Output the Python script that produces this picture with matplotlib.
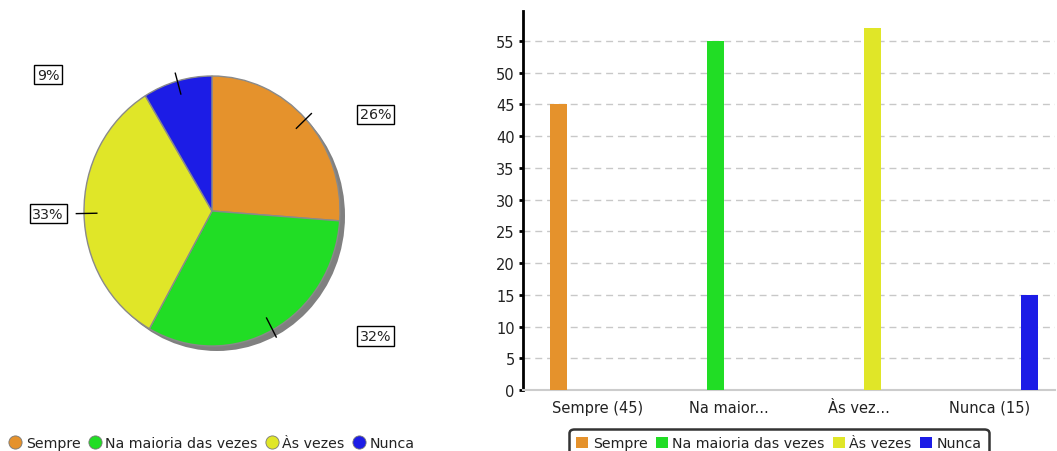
import numpy as np
import matplotlib
matplotlib.use("Agg")
import matplotlib.pyplot as plt
from matplotlib.lines import Line2D
from matplotlib.patches import Ellipse

categories = ["Sempre", "Na maioria das vezes", "Às vezes", "Nunca"]
values = [45, 55, 57, 15]
tick_labels = ["Sempre (45)", "Na maior...", "Às vez...", "Nunca (15)"]
colors = ["#E5922C", "#21DD25", "#E0E628", "#1C1CE6"]

plt.rcParams['font.family'] = ['DejaVu Sans']

W, H = 1057, 452
fig = plt.figure(figsize=(W / 100, H / 100), dpi=100)

# ---------------- Pie ----------------
cx, cy = 212, 452 - 212
rx, ry = 128, 135
k = 1.45
axp = fig.add_axes([(cx - rx * k) / W, (cy - ry * k) / H, 2 * rx * k / W, 2 * ry * k / H])
axp.axis('off')

# shadow
axp.add_patch(Ellipse((5 / rx, -5 / ry), 2, 2, facecolor="#808080", edgecolor="none", zorder=0))
wedges, _ = axp.pie(values, colors=colors, startangle=90, counterclock=False, radius=1,
                    wedgeprops=dict(edgecolor="#8a8a8a", linewidth=1.0))
for w in wedges:
    w.set_zorder(1)
axp.set_xlim(-k, k)
axp.set_ylim(-k, k)
axp.set_aspect('auto')

total = sum(values)
cum = 0
for v in values:
    mid = np.deg2rad(90 - (cum + v / 2) / total * 360)
    cum += v
    c, s = np.cos(mid), np.sin(mid)
    axp.plot([0.9 * c, 1.06 * c], [0.9 * s, 1.06 * s], color="black", lw=1, zorder=3)
    pct = f"{round(v / total * 100)}%"
    lx = 1.28 * np.sign(c) if abs(c) > 0.2 else 1.25 * np.sign(c)
    ly = 1.05 * s
    axp.text(lx, ly, pct, ha="center", va="center", fontsize=10.3, color="#222222",
             bbox=dict(boxstyle="square,pad=0.2", facecolor="white", edgecolor="black", linewidth=1),
             zorder=4)

pie_handles = [Line2D([], [], marker='o', linestyle='none', markersize=9.5,
                      markerfacecolor=col, markeredgecolor="#777777", markeredgewidth=0.6)
               for col in colors]
fig.legend(pie_handles, categories, loc="center", bbox_to_anchor=(212 / W, (452 - 444) / H),
           ncol=4, frameon=False, fontsize=10.2, handlelength=0.85, handletextpad=0.3,
           columnspacing=0.6, borderaxespad=0, borderpad=0, labelcolor="#222222")

# ---------------- Bar ----------------
axb = fig.add_axes([523 / W, (452 - 391) / H, 532 / W, 379 / H])
slot = 0.203
bw = 0.13
for i, (cat, v, col) in enumerate(zip(categories, values, colors)):
    axb.bar(i + (i - 1.5) * slot, v, width=bw, color=col, label=cat, zorder=3)

axb.set_xlim(-0.575, 3.502)
axb.set_ylim(0, 59.7)
axb.set_yticks(np.arange(0, 60, 5))
axb.set_xticks(range(len(tick_labels)))
axb.set_xticklabels(tick_labels)
axb.tick_params(axis='x', length=0, pad=7, labelsize=10.5, labelcolor="#222222")
axb.tick_params(axis='y', length=3, width=2, pad=3, labelsize=10.5, labelcolor="#222222")
axb.grid(axis='y', linestyle=(0, (5, 3.5)), color="#c8c8c8", linewidth=1, zorder=0)
axb.set_axisbelow(True)
for sp in ["top", "right"]:
    axb.spines[sp].set_visible(False)
axb.spines["left"].set_linewidth(2)
axb.spines["left"].set_color("black")
axb.spines["bottom"].set_linewidth(1.5)
axb.spines["bottom"].set_color("#cccccc")

bar_handles = [plt.Rectangle((0, 0), 1, 1, facecolor=col, edgecolor="none") for col in colors]
leg = fig.legend(bar_handles, categories, loc="upper center", bbox_to_anchor=(779 / W, (452 - 430) / H),
                 ncol=4, frameon=True, fontsize=10.2, handlelength=0.85, handleheight=0.85,
                 handletextpad=0.3, columnspacing=0.6, borderaxespad=0, borderpad=0.5,
                 labelcolor="#222222", fancybox=True)
leg.get_frame().set_edgecolor("black")
leg.get_frame().set_linewidth(1.8)
leg.get_frame().set_boxstyle("round,pad=0,rounding_size=0.3")

fig.savefig("out.png", dpi=100)
